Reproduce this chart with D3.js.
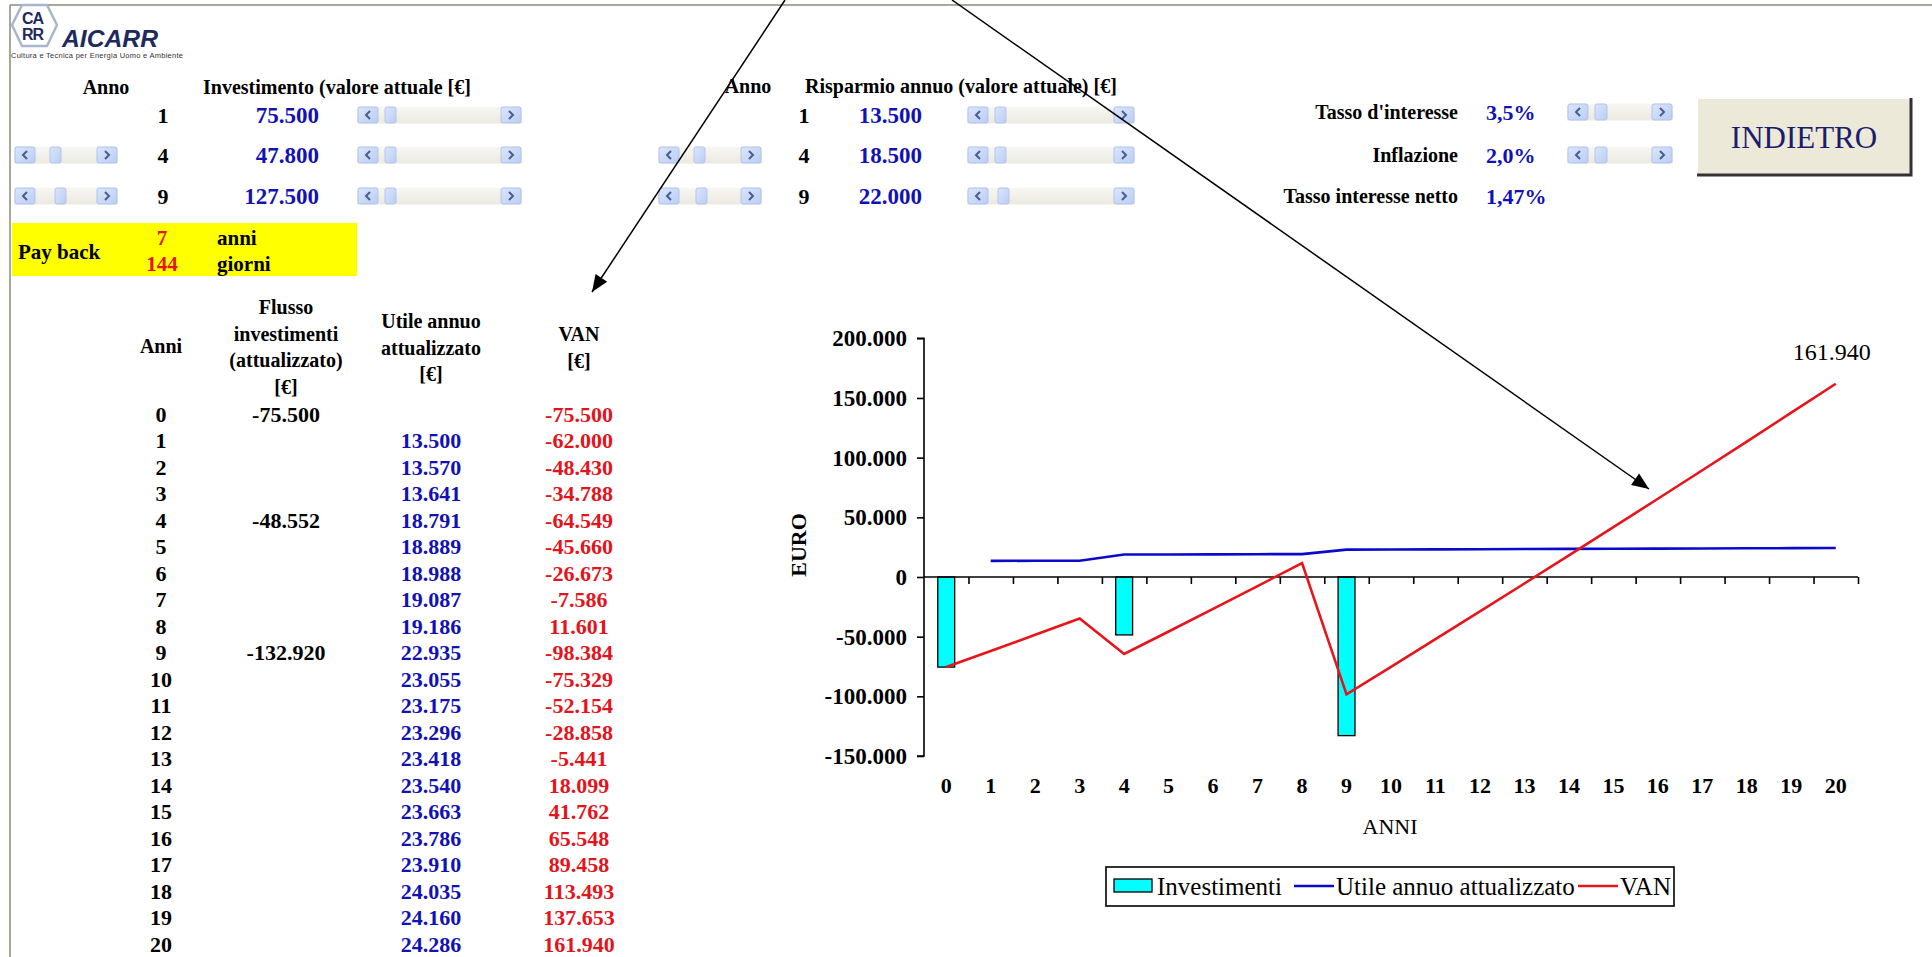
<!DOCTYPE html>
<html>
<head>
<meta charset="utf-8">
<script src="https://cdn.jsdelivr.net/npm/d3@7"></script>
<style>
html,body{margin:0;padding:0;background:#fff;}
svg{display:block;}
text{font-family:"Liberation Serif","Times New Roman",serif;}
text.sans{font-family:"Liberation Sans",Arial,sans-serif;}
</style>
</head>
<body>
<svg id="c" width="1932" height="957"></svg>
<script>
// ---------------- DATA ----------------
const anni = d3.range(0, 21);
const investimentiAnni = [0, 4, 9];
const investimentiAttualizzati = [-75500, -48552, -132920];
const utileAnnuo = [null, 13500, 13570, 13641, 18791, 18889, 18988, 19087, 19186, 22935, 23055, 23175, 23296, 23418, 23540, 23663, 23786, 23910, 24035, 24160, 24286];
const van = [-75500, -62000, -48430, -34788, -64549, -45660, -26673, -7586, 11601, -98384, -75329, -52154, -28858, -5441, 18099, 41762, 65548, 89458, 113493, 137653, 161940];
const yTicks = [-150000, -100000, -50000, 0, 50000, 100000, 150000, 200000];

const inputAnni = [1, 4, 9];
const investimentoValori = [75500, 47800, 127500];
const risparmioValori = [13500, 18500, 22000];
const tassiEtichette = ["Tasso d'interesse", "Inflazione", "Tasso interesse netto"];
const tassiValori = ["3,5%", "2,0%", "1,47%"];
const paybackAnni = 7, paybackGiorni = 144;
const legendaVoci = ["Investimenti", "Utile annuo attualizzato", "VAN"];

// ---------------- HELPERS ----------------
const it = d3.formatLocale({decimal: ",", thousands: ".", grouping: [3], currency: ["", " €"], minus: "-"});
const fmt = it.format(",d");
const svg = d3.select("#c");
const BLUE = "#1212B4", RED = "#E3141B", NAVY = "#1C1C6E";

function txt(x, y, s, o = {}) {
  return svg.append("text").attr("x", x).attr("y", y).attr("dy", "0.35em")
    .attr("text-anchor", o.anchor || "start")
    .attr("font-size", o.size || 21)
    .attr("font-weight", o.weight || "bold")
    .attr("fill", o.fill || "#000")
    .text(s);
}

const defs = svg.append("defs");
const trk = defs.append("linearGradient").attr("id", "trk").attr("x1", 0).attr("y1", 0).attr("x2", 0).attr("y2", 1);
trk.append("stop").attr("offset", "0").attr("stop-color", "#F7F7F3");
trk.append("stop").attr("offset", "1").attr("stop-color", "#EBE9E0");
const btn = defs.append("linearGradient").attr("id", "btn").attr("x1", 0).attr("y1", 0).attr("x2", 1).attr("y2", 1);
btn.append("stop").attr("offset", "0").attr("stop-color", "#DCE6FB");
btn.append("stop").attr("offset", "1").attr("stop-color", "#B9CDF5");

function scrollbar(x0, x1, cy, thumbX, thumbW) {
  const g = svg.append("g");
  const h = 17, y0 = cy - h / 2;
  g.append("rect").attr("x", x0).attr("y", y0).attr("width", x1 - x0).attr("height", h).attr("fill", "url(#trk)");
  const bw = 22;
  [[x0, "<"], [x1 - bw, ">"]].forEach(([bx, ch]) => {
    g.append("rect").attr("x", bx + 1).attr("y", y0 + 0.5).attr("width", bw - 2).attr("height", h - 1)
      .attr("rx", 2).attr("fill", "url(#btn)").attr("stroke", "#AFC3EE").attr("stroke-width", 1);
    const cx = bx + bw / 2;
    const d = ch === "<" ? `M${cx + 2},${cy - 4} L${cx - 2},${cy} L${cx + 2},${cy + 4}`
                         : `M${cx - 2},${cy - 4} L${cx + 2},${cy} L${cx - 2},${cy + 4}`;
    g.append("path").attr("d", d).attr("fill", "none").attr("stroke", "#4A5C8C").attr("stroke-width", 2);
  });
  g.append("rect").attr("x", thumbX).attr("y", y0 + 0.5).attr("width", thumbW).attr("height", h - 1)
    .attr("rx", 2).attr("fill", "url(#btn)").attr("stroke", "#B4C6EE");
}

// ---------------- PAGE FRAME ----------------
svg.append("line").attr("x1", 10).attr("x2", 1932).attr("y1", 5).attr("y2", 5).attr("stroke", "#8A8A78").attr("stroke-width", 1.5);
svg.append("line").attr("x1", 10).attr("x2", 10).attr("y1", 5).attr("y2", 957).attr("stroke", "#8A8A78").attr("stroke-width", 1.5);

// ---------------- LOGO ----------------
const hex = [[22, 5], [47, 5], [57, 25], [47, 46], [22, 46], [12, 25]];
svg.append("polygon").attr("points", hex.map(p => p.join(",")).join(" ")).attr("fill", "#fff").attr("stroke", "#A9B5C9").attr("stroke-width", 2.5).attr("stroke-linejoin", "round");
svg.append("text").attr("class", "sans").attr("x", 33).attr("y", 24).attr("text-anchor", "middle").attr("font-weight", "bold").attr("font-size", 16).attr("fill", "#1E2A5E").attr("textLength", 22).text("CA");
svg.append("text").attr("class", "sans").attr("x", 33).attr("y", 40).attr("text-anchor", "middle").attr("font-weight", "bold").attr("font-size", 16).attr("fill", "#1E2A5E").attr("textLength", 22).text("RR");
svg.append("text").attr("class", "sans").attr("x", 62).attr("y", 47).attr("font-weight", "bold").attr("font-style", "italic").attr("font-size", 23).attr("fill", "#1E2A5E").attr("textLength", 96).attr("lengthAdjust", "spacingAndGlyphs").text("AICARR");
svg.append("text").attr("class", "sans").attr("x", 11).attr("y", 58).attr("font-size", 7.5).attr("fill", "#333").attr("textLength", 172).text("Cultura e Tecnica per Energia Uomo e Ambiente");

// ---------------- TOP INPUTS ----------------
const rowY = [115, 155, 196];
txt(106, 87, "Anno", {anchor: "middle", size: 20});
txt(203, 87, "Investimento (valore attuale [€]", {size: 20});
txt(748, 86, "Anno", {anchor: "middle", size: 20});
txt(805, 86, "Risparmio annuo (valore attuale) [€]", {size: 20});

inputAnni.forEach((a, i) => {
  txt(163, rowY[i], a, {anchor: "middle", size: 22});
  txt(319, rowY[i], fmt(investimentoValori[i]), {anchor: "end", size: 23, fill: BLUE});
  scrollbar(357, 522, rowY[i], 385, 11);
  txt(804, rowY[i], a, {anchor: "middle", size: 22});
  txt(922, rowY[i], fmt(risparmioValori[i]), {anchor: "end", size: 23, fill: BLUE});
  scrollbar(967, 1135, rowY[i], [995, 995, 998][i], 11);
  if (i > 0) {
    scrollbar(14, 118, rowY[i], [50, 55][i - 1], 11);
    scrollbar(658, 762, rowY[i], [694, 696][i - 1], 11);
  }
});

const tRowY = [112, 155, 196];
tassiEtichette.forEach((t, i) => {
  txt(1458, tRowY[i], t, {anchor: "end", size: 20});
  txt(1486, tRowY[i], tassiValori[i], {size: 22, fill: BLUE});
  if (i < 2) scrollbar(1567, 1673, tRowY[i], 1595, 12);
});

// button
svg.append("rect").attr("x", 1697).attr("y", 98).attr("width", 214).attr("height", 77).attr("fill", "#ECE9D8");
svg.append("path").attr("d", "M1697,175 L1697,98 L1911,98").attr("fill", "none").attr("stroke", "#fff").attr("stroke-width", 2);
svg.append("path").attr("d", "M1697,175 L1911,175 L1911,98").attr("fill", "none").attr("stroke", "#333").attr("stroke-width", 3);
txt(1804, 137, "INDIETRO", {anchor: "middle", size: 31, weight: "normal", fill: NAVY});

// payback
svg.append("rect").attr("x", 12).attr("y", 223).attr("width", 345).attr("height", 53).attr("fill", "#FFFF00");
txt(18, 252, "Pay back", {size: 21});
txt(162, 238, paybackAnni, {anchor: "middle", size: 21, fill: RED});
txt(162, 264, paybackGiorni, {anchor: "middle", size: 21, fill: RED});
txt(217, 238, "anni", {size: 21});
txt(217, 264, "giorni", {size: 21});

// ---------------- TABLE ----------------
const colX = {anni: 161, flusso: 286, utile: 431, van: 579};
txt(colX.anni, 346, "Anni", {anchor: "middle", size: 20});
["Flusso", "investimenti", "(attualizzato)", "[€]"].forEach((s, i) => txt(colX.flusso, 307 + i * 26.7, s, {anchor: "middle", size: 20}));
["Utile annuo", "attualizzato", "[€]"].forEach((s, i) => txt(colX.utile, 321 + i * 26.7, s, {anchor: "middle", size: 20}));
["VAN", "[€]"].forEach((s, i) => txt(colX.van, 334 + i * 26.7, s, {anchor: "middle", size: 20}));

const rowScale = d3.scaleLinear().domain([0, 20]).range([414, 944]);
anni.forEach((a, i) => {
  const y = rowScale(a);
  txt(colX.anni, y, a, {anchor: "middle", size: 22});
  const k = investimentiAnni.indexOf(a);
  if (k >= 0) txt(colX.flusso, y, fmt(investimentiAttualizzati[k]), {anchor: "middle", size: 22});
  if (utileAnnuo[i] != null) txt(colX.utile, y, fmt(utileAnnuo[i]), {anchor: "middle", size: 22, fill: BLUE});
  txt(colX.van, y, fmt(van[i]), {anchor: "middle", size: 22, fill: RED});
});

// ---------------- CHART ----------------
const x = d3.scaleBand().domain(anni).range([924, 1858]).paddingInner(0).paddingOuter(0);
const xEdge = d3.scaleLinear().domain([0, anni.length]).range(x.range());
const y = d3.scaleLinear().domain([-150000, 200000]).range([756, 338.3]);
const chart = svg.append("g");

// bars
const barW = x.bandwidth() * 0.38;
chart.selectAll("rect.bar").data(investimentiAnni.map((a, i) => ({a, v: investimentiAttualizzati[i]})))
  .enter().append("rect").attr("class", "bar")
  .attr("x", d => x(d.a) + x.bandwidth() / 2 - barW / 2)
  .attr("y", y(0))
  .attr("width", barW)
  .attr("height", d => y(d.v) - y(0))
  .attr("fill", "#00FFFF").attr("stroke", "#000").attr("stroke-width", 1.3);

// y axis
const yAxis = d3.axisLeft(y).tickValues(yTicks).tickSize(7).tickPadding(10).tickFormat(fmt);
const yg = chart.append("g").attr("transform", "translate(924,0)").call(yAxis);
yg.select(".domain").attr("stroke", "#000").attr("stroke-width", 1.6).attr("d", `M-7,${y(200000)}H0V${y(-150000)}H-7`);
yg.selectAll(".tick line").attr("stroke", "#000").attr("stroke-width", 1.6);
yg.selectAll(".tick text").attr("font-weight", "bold").attr("font-size", 23).attr("fill", "#000");

// x axis line at zero with boundary ticks
const xTicksG = chart.append("g").attr("transform", `translate(0,${y(0)})`)
  .call(d3.axisBottom(xEdge).tickValues(d3.range(1, anni.length + 1)).tickSize(7).tickFormat(""));
xTicksG.select(".domain").attr("stroke", "#000").attr("stroke-width", 1.6).attr("d", `M${xEdge(0)},0H${xEdge(anni.length)}`);
xTicksG.selectAll(".tick line").attr("stroke", "#000").attr("stroke-width", 1.6);

// x labels (low position)
const xl = chart.append("g").attr("transform", "translate(0,777)")
  .call(d3.axisBottom(x).tickSize(0).tickPadding(0));
xl.select(".domain").remove();
xl.selectAll(".tick text").attr("font-weight", "bold").attr("font-size", 22).attr("fill", "#000");

// lines
const cx = a => x(a) + x.bandwidth() / 2;
const utilePts = anni.map((a, i) => [a, utileAnnuo[i]]).filter(d => d[1] != null);
chart.append("path").datum(utilePts)
  .attr("d", d3.line().x(d => cx(d[0])).y(d => y(d[1])))
  .attr("fill", "none").attr("stroke", "#0A0ACC").attr("stroke-width", 2.6);
chart.append("path").datum(anni.map((a, i) => [a, van[i]]))
  .attr("d", d3.line().x(d => cx(d[0])).y(d => y(d[1])))
  .attr("fill", "none").attr("stroke", "#E8141C").attr("stroke-width", 2.6);

// data label last VAN
chart.append("text").attr("x", cx(20) - 4).attr("y", y(van[20]) - 32).attr("dy", "0.35em")
  .attr("text-anchor", "middle").attr("font-size", 24).attr("fill", "#000").text(fmt(van[20]));

// axis titles
chart.append("text").attr("transform", "translate(798,545) rotate(-90)").attr("dy", "0.35em")
  .attr("text-anchor", "middle").attr("font-size", 22).attr("font-weight", "bold").text("EURO");
chart.append("text").attr("x", 1390).attr("y", 826).attr("dy", "0.35em")
  .attr("text-anchor", "middle").attr("font-size", 22).text("ANNI");

// legend
const lg = svg.append("g");
lg.append("rect").attr("x", 1106).attr("y", 867).attr("width", 568).attr("height", 39)
  .attr("fill", "#fff").attr("stroke", "#000").attr("stroke-width", 1.6);
lg.append("rect").attr("x", 1114).attr("y", 879).attr("width", 38).attr("height", 13)
  .attr("fill", "#00FFFF").attr("stroke", "#000").attr("stroke-width", 1.3);
lg.append("text").attr("x", 1157).attr("y", 886).attr("dy", "0.35em").attr("font-size", 25).text(legendaVoci[0]);
lg.append("line").attr("x1", 1294).attr("x2", 1334).attr("y1", 886).attr("y2", 886).attr("stroke", "#0A0ACC").attr("stroke-width", 2.6);
lg.append("text").attr("x", 1336).attr("y", 886).attr("dy", "0.35em").attr("font-size", 25).text(legendaVoci[1]);
lg.append("line").attr("x1", 1578).attr("x2", 1618).attr("y1", 886).attr("y2", 886).attr("stroke", "#E8141C").attr("stroke-width", 2.6);
lg.append("text").attr("x", 1620).attr("y", 886).attr("dy", "0.35em").attr("font-size", 25).text(legendaVoci[2]);

// ---------------- ANNOTATION ARROWS ----------------
function arrow(x1, y1, x2, y2) {
  svg.append("line").attr("x1", x1).attr("y1", y1).attr("x2", x2).attr("y2", y2).attr("stroke", "#000").attr("stroke-width", 1.5);
  const ang = Math.atan2(y2 - y1, x2 - x1), L = 17, W = 7;
  const bx = x2 - L * Math.cos(ang), by = y2 - L * Math.sin(ang);
  const px = -Math.sin(ang) * W, py = Math.cos(ang) * W;
  svg.append("polygon").attr("points", `${x2},${y2} ${bx + px},${by + py} ${bx - px},${by - py}`).attr("fill", "#000");
}
arrow(785, 0, 592, 292);
arrow(952, 0, 1649, 489);
</script>
</body>
</html>
